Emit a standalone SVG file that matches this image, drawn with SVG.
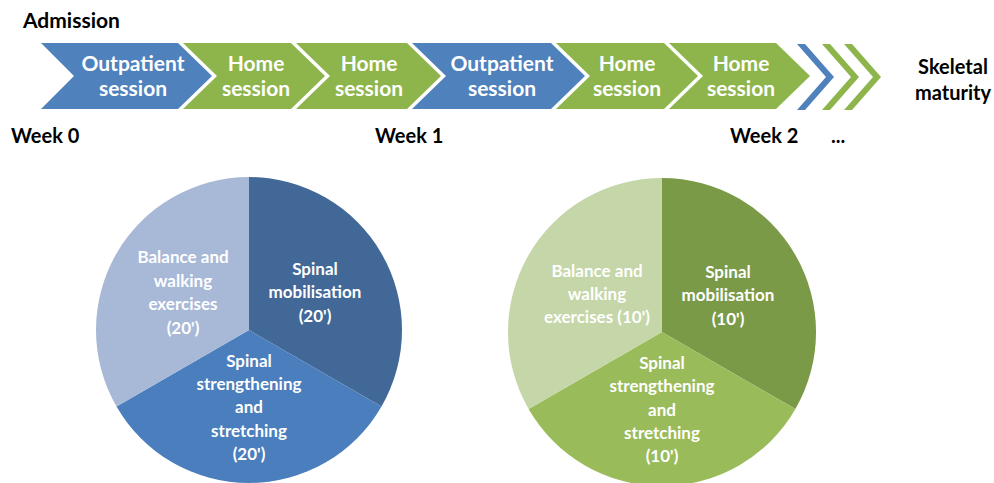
<svg xmlns="http://www.w3.org/2000/svg" width="994" height="483" viewBox="0 0 994 483">
  <style>
    .lbl { font-family: Lato, "Open Sans", "Liberation Sans", sans-serif; font-weight: bold; }
    .dark { fill: #000000; font-size: 20px; }
    .chev { fill: #ffffff; font-size: 21px; text-anchor: middle; }
    .pie { fill: #ffffff; font-size: 17px; text-anchor: middle; }
    .blue { fill: #4F81BD; }
    .green { fill: #8EB54B; }
  </style>

  <rect width="994" height="483" fill="#ffffff"/>

  <!-- timeline labels -->
  <g id="timeline-labels" class="lbl dark">
    <text x="23" y="28" font-size="21">Admission</text>
    <text x="11" y="143">Week 0</text>
    <text x="375" y="143">Week 1</text>
    <text x="730" y="143">Week 2</text>
    <text x="831" y="143">...</text>
    <text x="953" y="74" text-anchor="middle">Skeletal</text>
    <text x="953" y="100" text-anchor="middle">maturity</text>
  </g>

  <!-- session chevrons -->
  <g id="session-1">
    <polygon class="blue" points="41,43 178,43 212,76 178,109 41,109 74,76"/>
    <text class="lbl chev" x="133" y="71">Outpatient</text>
    <text class="lbl chev" x="133" y="96">session</text>
  </g>
  <g id="session-2">
    <polygon class="green" points="183,43 291,43 325,76 291,109 183,109 217,76"/>
    <text class="lbl chev" x="256" y="71">Home</text>
    <text class="lbl chev" x="256" y="96">session</text>
  </g>
  <g id="session-3">
    <polygon class="green" points="296,43 407,43 441,76 407,109 296,109 330,76"/>
    <text class="lbl chev" x="369" y="71">Home</text>
    <text class="lbl chev" x="369" y="96">session</text>
  </g>
  <g id="session-4">
    <polygon class="blue" points="412,43 551,43 585,76 551,109 412,109 446,76"/>
    <text class="lbl chev" x="502" y="71">Outpatient</text>
    <text class="lbl chev" x="502" y="96">session</text>
  </g>
  <g id="session-5">
    <polygon class="green" points="556,43 664,43 698,76 664,109 556,109 590,76"/>
    <text class="lbl chev" x="627" y="71">Home</text>
    <text class="lbl chev" x="627" y="96">session</text>
  </g>
  <g id="session-6">
    <polygon class="green" points="669,43 776,43 810,76 776,109 669,109 703,76"/>
    <text class="lbl chev" x="741" y="71">Home</text>
    <text class="lbl chev" x="741" y="96">session</text>
  </g>

  <!-- continuation marks -->
  <g id="continuation">
    <polygon class="blue" points="797,44 805,44 834,77 805,110 797,110 826,77"/>
    <polygon class="green" points="822,44 830,44 859,77 830,110 822,110 851,77"/>
    <polygon class="green" points="844,44 852,44 881,77 852,110 844,110 873,77"/>
  </g>

  <g id="connectors"/>

  <!-- outpatient session breakdown -->
  <g id="pie-outpatient">
    <path fill="#416896" d="M249,330 L249,177 A153,153 0 0 1 381.5,406.5 Z"/>
    <path fill="#4A7EBC" d="M249,330 L381.5,406.5 A153,153 0 0 1 116.5,406.5 Z"/>
    <path fill="#A8B8D7" d="M249,330 L116.5,406.5 A153,153 0 0 1 249,177 Z"/>
    <g class="lbl pie">
      <text x="315" y="275">Spinal</text>
      <text x="315" y="298">mobilisation</text>
      <text x="315" y="322">(20')</text>
      <text x="183" y="263">Balance and</text>
      <text x="183" y="287">walking</text>
      <text x="183" y="310">exercises</text>
      <text x="183" y="334">(20')</text>
      <text x="249" y="367">Spinal</text>
      <text x="249" y="390">strengthening</text>
      <text x="249" y="413">and</text>
      <text x="249" y="437">stretching</text>
      <text x="249" y="460">(20')</text>
    </g>
  </g>

  <!-- home session breakdown -->
  <g id="pie-home">
    <path fill="#7B9A48" d="M662,332 L662,178 A154,154 0 0 1 795.4,409 Z"/>
    <path fill="#9ABB59" d="M662,332 L795.4,409 A154,154 0 0 1 528.6,409 Z"/>
    <path fill="#C5D6A9" d="M662,332 L528.6,409 A154,154 0 0 1 662,178 Z"/>
    <g class="lbl pie">
      <text x="728" y="278">Spinal</text>
      <text x="728" y="301">mobilisation</text>
      <text x="728" y="325">(10')</text>
      <text x="597" y="277">Balance and</text>
      <text x="597" y="300">walking</text>
      <text x="597" y="323">exercises (10')</text>
      <text x="662" y="369">Spinal</text>
      <text x="662" y="392">strengthening</text>
      <text x="662" y="416">and</text>
      <text x="662" y="439">stretching</text>
      <text x="662" y="462">(10')</text>
    </g>
  </g>
</svg>
